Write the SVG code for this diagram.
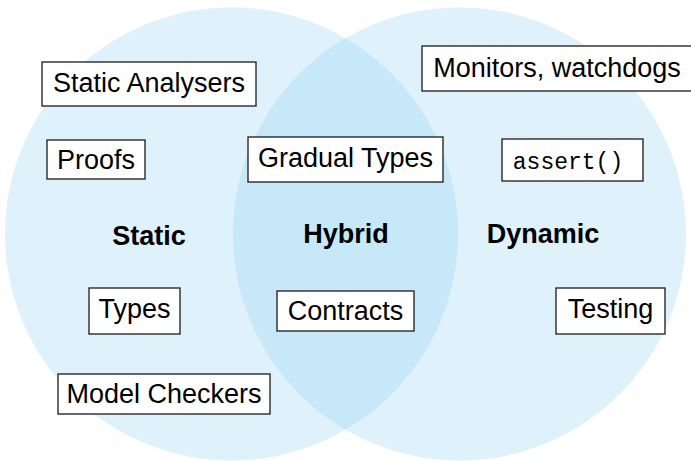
<svg xmlns="http://www.w3.org/2000/svg" width="691" height="461" viewBox="0 0 691 461">
  <style>
    .set { fill: #dff1fa; }
    .both { fill: #c6e8f8; }
    .box rect { fill: #ffffff; stroke: #1a1a1a; stroke-width: 1.3; }
    .box text { font-family: "Liberation Sans", Arial, sans-serif; font-size: 27px; fill: #000; text-anchor: middle; }
    .box text.mono { font-family: "Liberation Mono", "Courier New", monospace; font-size: 23px; }
    .area { font-family: "Liberation Sans", Arial, sans-serif; font-size: 27px; font-weight: bold; fill: #000; text-anchor: middle; }
  </style>
  <defs>
    <clipPath id="leftSet">
      <circle cx="231.5" cy="234" r="226.5"/>
    </clipPath>
  </defs>

  <!-- Venn sets -->
  <g id="sets">
    <circle class="set" cx="231.5" cy="234" r="226.5"/>
    <circle class="set" cx="459.5" cy="234" r="226.5"/>
    <circle class="both" cx="459.5" cy="234" r="226.5" clip-path="url(#leftSet)"/>
  </g>

  <!-- no connectors in this diagram -->
  <g id="connectors"/>

  <!-- region labels -->
  <g id="label-static"><text class="area" x="149" y="245">Static</text></g>
  <g id="label-hybrid"><text class="area" x="346" y="243">Hybrid</text></g>
  <g id="label-dynamic"><text class="area" x="543" y="243">Dynamic</text></g>

  <!-- items -->
  <g id="static-analysers" class="box">
    <rect x="42" y="62" width="214" height="44"/>
    <text x="149" y="92">Static Analysers</text>
  </g>
  <g id="proofs" class="box">
    <rect x="47" y="140" width="98" height="39"/>
    <text x="96" y="169">Proofs</text>
  </g>
  <g id="gradual-types" class="box">
    <rect x="248" y="137" width="195" height="45"/>
    <text x="345.5" y="167">Gradual Types</text>
  </g>
  <g id="monitors" class="box">
    <rect x="422" y="46" width="275" height="45"/>
    <text x="557" y="77">Monitors, watchdogs</text>
  </g>
  <g id="assert" class="box">
    <rect x="502" y="139" width="141" height="42"/>
    <text class="mono" x="568" y="169">assert()</text>
  </g>
  <g id="types" class="box">
    <rect x="89" y="288" width="91" height="46"/>
    <text x="134.5" y="318">Types</text>
  </g>
  <g id="contracts" class="box">
    <rect x="277" y="291" width="137" height="40"/>
    <text x="345.5" y="320">Contracts</text>
  </g>
  <g id="testing" class="box">
    <rect x="556" y="288" width="109" height="46"/>
    <text x="610.5" y="318">Testing</text>
  </g>
  <g id="model-checkers" class="box">
    <rect x="58" y="374" width="212" height="40"/>
    <text x="164" y="403">Model Checkers</text>
  </g>
</svg>
